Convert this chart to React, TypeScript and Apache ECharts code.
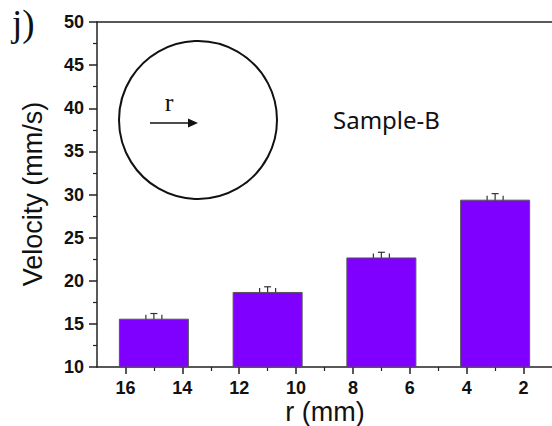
import React, { useEffect, useRef } from "react";
import * as echarts from "echarts";

const radii = [15, 11, 7, 3];
const velocity = [15.6, 18.7, 22.7, 29.4];
const errors = [0.6, 0.6, 0.6, 0.7];
const majorTicks = [16, 14, 12, 10, 8, 6, 4, 2];
const minorTicks = [15, 13, 11, 9, 7, 5, 3];

const AXIS_COLOR = "#222";
const LABEL_FONT = {
  fontFamily: "Liberation Sans, Arial, sans-serif",
  fontWeight: "bold" as const,
  fontSize: 18,
  color: "#111",
};

export default function App() {
  const ref = useRef<HTMLDivElement>(null);
  useEffect(() => {
    if (!ref.current) return;
    const chart = echarts.init(ref.current, undefined, { renderer: "svg" });
    const gridRect = { left: 97, top: 22, right: -9, bottom: 59 };
    chart.setOption({
      animation: false,
      backgroundColor: "#fff",
      grid: [
        { ...gridRect, containLabel: false },
        { ...gridRect, containLabel: false },
      ],
      xAxis: [
        {
          type: "value",
          gridIndex: 0,
          min: 1,
          max: 17,
          inverse: true,
          position: "bottom",
          axisLine: { show: true, lineStyle: { color: AXIS_COLOR, width: 1.5 } },
          axisTick: {
            show: true,
            customValues: majorTicks,
            length: 7,
            lineStyle: { color: AXIS_COLOR, width: 1.5 },
          },
          axisLabel: { ...LABEL_FONT, customValues: majorTicks, margin: 12 },
          splitLine: { show: false },
        },
        {
          type: "value",
          gridIndex: 0,
          min: 1,
          max: 17,
          inverse: true,
          position: "top",
          axisLine: { show: true, lineStyle: { color: AXIS_COLOR, width: 1.5 } },
          axisTick: { show: false },
          axisLabel: { show: false },
          splitLine: { show: false },
        },
        {
          type: "value",
          gridIndex: 1,
          min: 1,
          max: 17,
          inverse: true,
          position: "bottom",
          axisLine: { show: false },
          axisTick: {
            show: true,
            customValues: minorTicks,
            length: 4,
            lineStyle: { color: AXIS_COLOR, width: 1.2 },
          },
          axisLabel: { show: false },
          splitLine: { show: false },
        },
      ],
      yAxis: [
        {
          type: "value",
          gridIndex: 0,
          min: 10,
          max: 50,
          interval: 5,
          axisLine: { show: true, lineStyle: { color: AXIS_COLOR, width: 1.5 } },
          axisTick: { show: true, length: 8, lineStyle: { color: AXIS_COLOR, width: 1.5 } },
          minorTick: { show: true, splitNumber: 2, length: 4, lineStyle: { color: AXIS_COLOR, width: 1.2 } },
          axisLabel: { ...LABEL_FONT, margin: 13 },
          splitLine: { show: false },
        },
        {
          type: "value",
          gridIndex: 1,
          min: 10,
          max: 50,
          show: false,
        },
      ],
      series: [
        {
          type: "bar",
          xAxisIndex: 0,
          yAxisIndex: 0,
          barWidth: 70,
          clip: true,
          data: radii.map((r, i) => [r, velocity[i]]),
          itemStyle: { color: "#7F00FF", borderColor: "#555", borderWidth: 1 },
        },
        {
          type: "custom",
          xAxisIndex: 0,
          yAxisIndex: 0,
          clip: false,
          data: radii.map((r, i) => [r, velocity[i], errors[i]]),
          encode: { x: 0, y: 1 },
          renderItem: (params: any, api: any) => {
            const x = api.value(0);
            const y = api.value(1);
            const e = api.value(2);
            const top = api.coord([x, y + e]);
            const bot = api.coord([x, y - e]);
            const mid = api.coord([x, y]);
            const cx = mid[0];
            const style = { stroke: "#333", lineWidth: 1.2 };
            return {
              type: "group",
              children: [
                { type: "line", shape: { x1: cx, y1: top[1], x2: cx, y2: bot[1] }, style },
                { type: "line", shape: { x1: cx - 3.5, y1: top[1], x2: cx + 3.5, y2: top[1] }, style },
                { type: "line", shape: { x1: cx - 3.5, y1: bot[1], x2: cx + 3.5, y2: bot[1] }, style },
                { type: "line", shape: { x1: cx - 8, y1: mid[1] - 4, x2: cx - 8, y2: mid[1] + 4 }, style },
                { type: "line", shape: { x1: cx + 8, y1: mid[1] - 4, x2: cx + 8, y2: mid[1] + 4 }, style },
              ],
            };
          },
        },
      ],
      graphic: [
        {
          type: "text",
          left: 12,
          top: 5,
          style: {
            text: "j)",
            fontFamily: "Liberation Serif, Times New Roman, serif",
            fontSize: 37,
            fill: "#111",
          },
        },
        {
          type: "text",
          x: 33,
          y: 194,
          rotation: Math.PI / 2,
          style: {
            text: "Velocity (mm/s)",
            fontFamily: "Liberation Sans, Arial, sans-serif",
            fontSize: 27,
            fill: "#111",
            align: "center",
            verticalAlign: "middle",
          },
        },
        {
          type: "text",
          x: 325,
          y: 412,
          style: {
            text: "r (mm)",
            fontFamily: "Liberation Sans, Arial, sans-serif",
            fontSize: 27,
            fill: "#111",
            align: "center",
            verticalAlign: "middle",
          },
        },
        {
          type: "text",
          x: 333,
          y: 119,
          style: {
            text: "Sample-B",
            fontFamily: "Noto Sans, Open Sans, sans-serif",
            fontSize: 24,
            fill: "#111",
            align: "left",
            verticalAlign: "middle",
          },
        },
        {
          type: "circle",
          shape: { cx: 198, cy: 120, r: 79 },
          style: { fill: "none", stroke: "#111", lineWidth: 2 },
        },
        {
          type: "text",
          x: 169,
          y: 115,
          style: {
            text: "r",
            fontFamily: "Liberation Serif, Times New Roman, serif",
            fontSize: 26,
            fill: "#111",
            align: "center",
            verticalAlign: "bottom",
          },
        },
        {
          type: "line",
          shape: { x1: 150, y1: 123, x2: 190, y2: 123 },
          style: { stroke: "#111", lineWidth: 1.5 },
        },
        {
          type: "polygon",
          shape: { points: [[188, 118.5], [198, 123], [188, 127.5]] },
          style: { fill: "#111" },
        },
      ],
    });
    return () => chart.dispose();
  }, []);
  return (
    <div
      ref={ref}
      style={{ position: "fixed", left: 0, top: 0, width: 552, height: 426 }}
    />
  );
}
